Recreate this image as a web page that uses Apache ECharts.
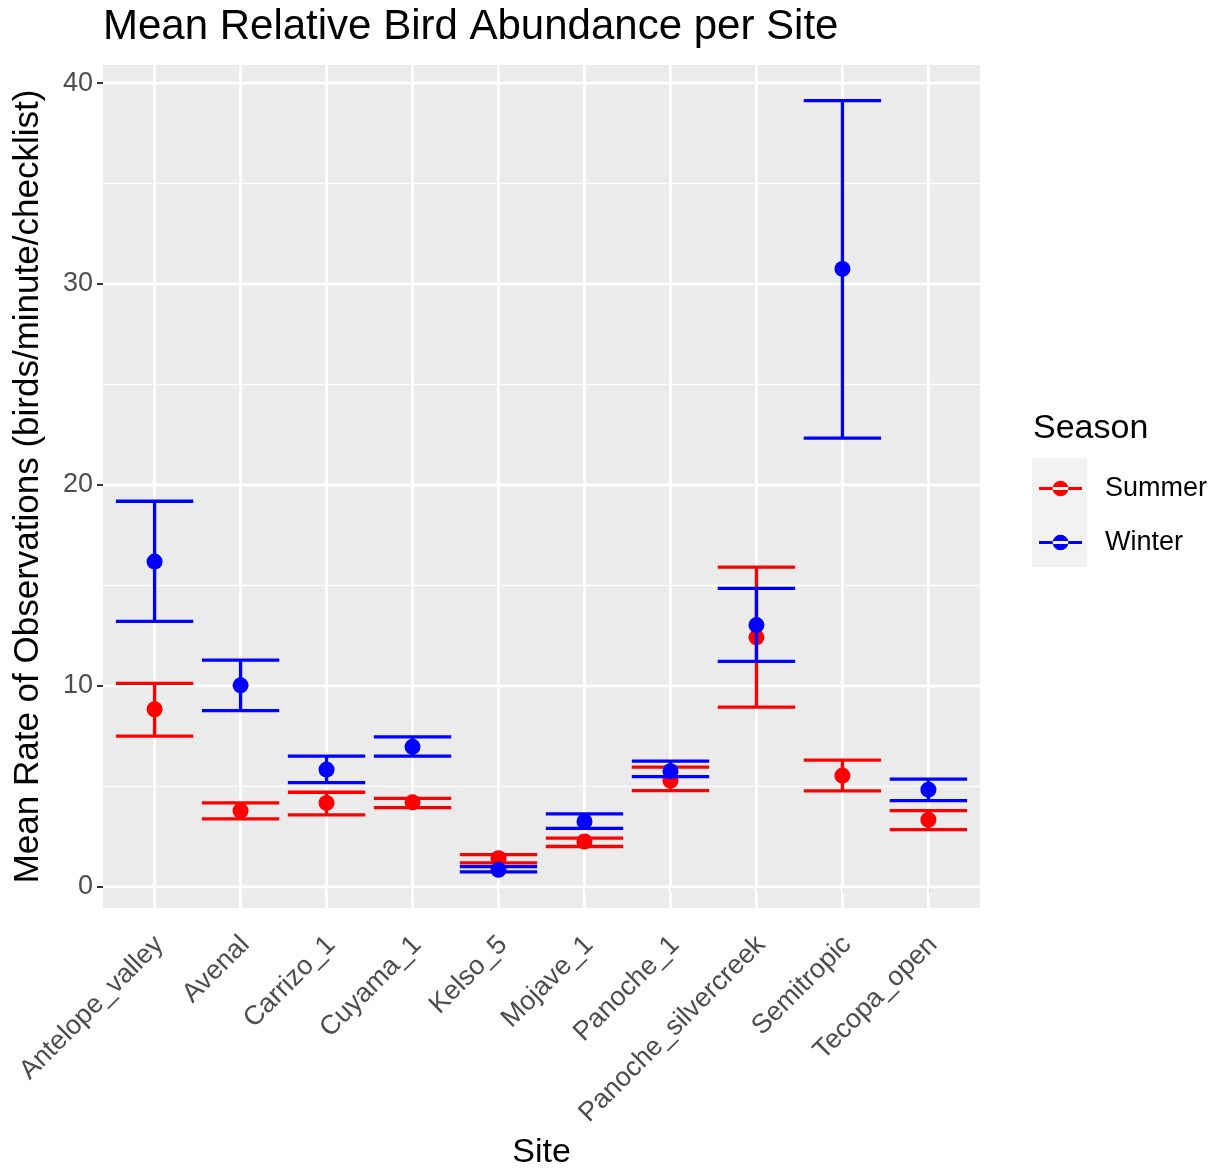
<!DOCTYPE html>
<html><head><meta charset="utf-8">
<script src="https://cdn.jsdelivr.net/npm/echarts@6/dist/echarts.min.js"></script>
<style>html,body{margin:0;padding:0;background:#fff}#c{width:1221px;height:1170px}</style>
</head><body><div id="c"></div>
<script>
const sites = ['Antelope_valley','Avenal','Carrizo_1','Cuyama_1','Kelso_5','Mojave_1','Panoche_1','Panoche_silvercreek','Semitropic','Tecopa_open'];
const summerMean = [8.84, 3.79, 4.18, 4.21, 1.43, 2.26, 5.29, 12.42, 5.54, 3.34];
const summerLow  = [7.50, 3.39, 3.58, 3.94, 1.20, 2.01, 4.79, 8.95, 4.78, 2.85];
const summerHigh = [10.13, 4.18, 4.71, 4.41, 1.61, 2.43, 5.96, 15.91, 6.31, 3.80];
const winterMean = [16.19, 10.03, 5.84, 6.97, 0.85, 3.26, 5.76, 13.03, 30.75, 4.84];
const winterLow  = [13.21, 8.77, 5.19, 6.51, 0.75, 2.91, 5.49, 11.22, 22.33, 4.29];
const winterHigh = [19.19, 11.28, 6.51, 7.47, 1.01, 3.63, 6.26, 14.86, 39.13, 5.36];
const yTicks = [0, 10, 20, 30, 40];
const yMinor = [5, 15, 25, 35];
const seasons = ['Summer', 'Winter'];

const xPos = sites.map((s, i) => i + 1);
const FONT = '"Liberation Sans", Arial, sans-serif';

function gridSeries(values, dir, width) {
  return {
    type: 'custom', silent: true, z: 1,
    data: values.map(v => [v]),
    encode: dir === 'h' ? { y: 0 } : { x: 0 },
    renderItem: function (params, api) {
      const cs = params.coordSys;
      const v = api.value(0);
      let shape;
      if (dir === 'h') {
        const y = api.coord([1, v])[1];
        shape = { x1: cs.x, y1: y, x2: cs.x + cs.width, y2: y };
      } else {
        const x = api.coord([v, 0])[0];
        shape = { x1: x, y1: cs.y, x2: x, y2: cs.y + cs.height };
      }
      return { type: 'line', shape: shape, style: { stroke: '#FFFFFF', lineWidth: width } };
    }
  };
}

function errSeries(name, color, mean, low, high) {
  return {
    type: 'custom', name: name, z: 5,
    itemStyle: { color: color },
    data: xPos.map((x, i) => [x, mean[i], low[i], high[i]]),
    encode: { x: 0, y: [1, 2, 3] },
    renderItem: function (params, api) {
      const x = api.value(0);
      const m = api.coord([x, api.value(1)]);
      const lo = api.coord([x, api.value(2)]);
      const hi = api.coord([x, api.value(3)]);
      const loL = api.coord([x - 0.45, api.value(2)]);
      const loR = api.coord([x + 0.45, api.value(2)]);
      const hiL = api.coord([x - 0.45, api.value(3)]);
      const hiR = api.coord([x + 0.45, api.value(3)]);
      const st = { stroke: color, lineWidth: 3.3, lineCap: 'butt' };
      return {
        type: 'group',
        children: [
          { type: 'line', shape: { x1: lo[0], y1: lo[1], x2: hi[0], y2: hi[1] }, style: st },
          { type: 'line', shape: { x1: loL[0], y1: loL[1], x2: loR[0], y2: loR[1] }, style: st },
          { type: 'line', shape: { x1: hiL[0], y1: hiL[1], x2: hiR[0], y2: hiR[1] }, style: st },
          { type: 'circle', shape: { cx: m[0], cy: m[1], r: 8 }, style: { fill: color } }
        ]
      };
    }
  };
}

const legendIcon = 'path://M0,6.5 L44,6.5 L44,9.5 L0,9.5 Z M14,8 A8,8 0 1,0 30,8 A8,8 0 1,0 14,8 Z';

const chart = echarts.init(document.getElementById('c'), null, { renderer: 'canvas' });
chart.setOption({
  animation: false,
  backgroundColor: '#FFFFFF',
  textStyle: { fontFamily: FONT },
  title: [
    { text: 'Mean Relative Bird Abundance per Site', left: 98, top: 1,
      textStyle: { fontFamily: FONT, fontSize: 42, fontWeight: 'normal', color: '#000' } },
    { text: 'Season', left: 1028, top: 407,
      textStyle: { fontFamily: FONT, fontSize: 34, fontWeight: 'normal', color: '#000' } }
  ],
  graphic: [
    { type: 'rect', left: 1032, top: 458, shape: { width: 55, height: 109 }, style: { fill: '#F2F2F2' }, z: -1 }
  ],
  legend: {
    left: 1039, top: 475, orient: 'vertical',
    itemWidth: 43, itemHeight: 16, itemGap: 27,
    padding: 0,
    data: seasons.map(s => ({ name: s, icon: legendIcon })),
    textStyle: { fontFamily: FONT, fontSize: 27, lineHeight: 27, color: '#000', padding: [0, 0, 0, 18] },
    selectedMode: false
  },
  grid: { left: 103, top: 65, width: 877, height: 843, show: true, backgroundColor: '#EBEBEB', borderWidth: 0,
    outerBoundsMode: 'none', containLabel: false },
  xAxis: {
    type: 'value', min: 0.4, max: 10.6,
    name: 'Site', nameLocation: 'middle', nameGap: 228,
    nameTextStyle: { fontFamily: FONT, fontSize: 34, color: '#000' },
    axisLine: { show: false },
    splitLine: { show: false },
    axisTick: { show: true, customValues: xPos, length: 6, lineStyle: { color: '#333333', width: 2 } },
    axisLabel: { customValues: xPos, rotate: 45, margin: 18, verticalAlign: 'top', lineHeight: 27,
      padding: [0, 7, 0, 0],
      fontFamily: FONT, fontSize: 27, color: '#4D4D4D',
      formatter: v => sites[Math.round(v) - 1] || '' }
  },
  yAxis: {
    type: 'value', min: -1.05, max: 40.9,
    name: 'Mean Rate of Observations (birds/minute/checklist)', nameLocation: 'middle', nameGap: 57,
    nameTextStyle: { fontFamily: FONT, fontSize: 35, color: '#000' },
    axisLine: { show: false },
    splitLine: { show: false },
    axisTick: { show: true, customValues: yTicks, length: 6, lineStyle: { color: '#333333', width: 2 } },
    axisLabel: { customValues: yTicks, margin: 10, fontFamily: FONT, fontSize: 27, color: '#4D4D4D' }
  },
  series: [
    gridSeries(yMinor, 'h', 1.4),
    gridSeries(yTicks, 'h', 2.8),
    gridSeries(xPos, 'v', 2.8),
    errSeries(seasons[0], '#FF0000', summerMean, summerLow, summerHigh),
    errSeries(seasons[1], '#0000FF', winterMean, winterLow, winterHigh)
  ]
});
</script></body></html>
